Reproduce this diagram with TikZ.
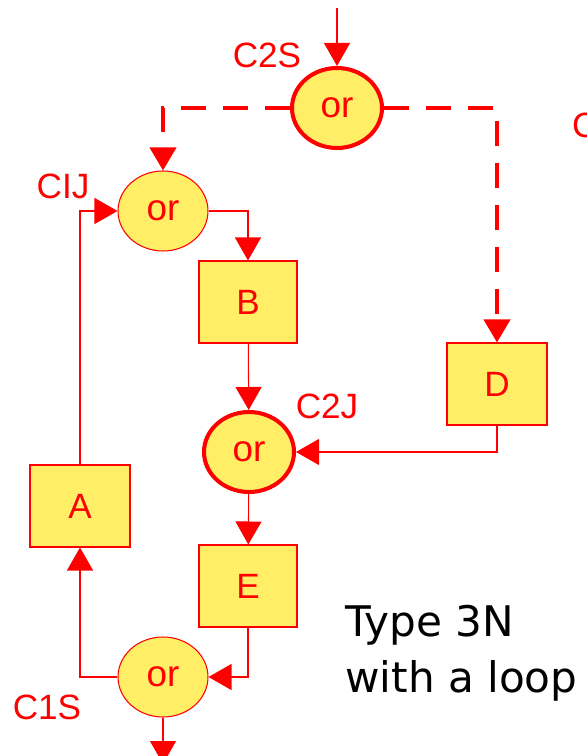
\documentclass[tikz,border=0pt]{standalone}
\usepackage{fontspec}
\setmainfont{Liberation Sans}
\newfontfamily\capfont{DejaVu Sans}
\usepackage{tikz}
\usetikzlibrary{
  arrows.meta,
  positioning,
  shapes.geometric
}
\definecolor{orred}{RGB}{255,0,0}
\definecolor{oryellow}{RGB}{255,238,102}
\tikzset{
  ornode/.style={ellipse, draw=orred, fill=oryellow, line width=0.6pt,
    minimum width=1.8cm, minimum height=1.6cm, inner sep=0pt,
    text=orred, font=\fontsize{21}{21}\selectfont},
  orthick/.style={ornode, line width=2.3pt},
  taskbox/.style={rectangle, draw=orred, fill=oryellow, line width=0.6pt,
    minimum width=1.96cm, minimum height=1.64cm,
    text=orred, font=\fontsize{20}{20}\selectfont},
  lbl/.style={text=orred, font=\fontsize{20}{20}\selectfont},
  flow/.style={draw=orred, line width=0.6pt, -{Triangle[length=4.6mm,width=5.2mm]}},
  dflow/.style={flow, line width=2.3pt, dash pattern=on 0.5cm off 0.34cm}
}

\begin{document}
\begin{tikzpicture}[x=0.02cm,y=-0.02cm]
  \useasboundingbox (0,0) rectangle (586,756);

  % or nodes
  \node[orthick] (c2s) at (337,108) {or};
  \node[ornode]  (cij) at (163,211) {or};
  \node[orthick] (c2j) at (249,452) {or};
  \node[ornode]  (c1s) at (163,677) {or};

  % tasks
  \node[taskbox] (b) at (248,302) {B};
  \node[taskbox, minimum width=2cm] (d) at (497,384) {D};
  \node[taskbox, minimum width=2cm] (a) at (80,506) {A};
  \node[taskbox] (e) at (248,586) {E};

  % labels
  \node[lbl] (lc2s) at (267,55) {C2S};
  \node[lbl] (lcij) at (63,186) {CIJ};
  \node[lbl] (lc2j) at (327,406) {C2J};
  \node[lbl] (lc1s) at (47,707) {C1S};
  \node[lbl, anchor=west] (lcut) at (566,125) {C};

  \coordinate (in) at (337,8);
  \coordinate (out) at (163,764);

  % connectors
  \draw[flow] (in) -- (c2s);
  \draw[dflow] (c2s.west) -| (cij.north);
  \draw[dflow] (c2s.east) -| (d.north);
  \draw[flow] (cij.east) -| (b.north);
  \draw[flow] (b) -- (c2j);
  \draw[flow] (d.south) |- (c2j.east);
  \draw[flow] (c2j) -- (e);
  \draw[flow] (e.south) |- (c1s.east);
  \draw[flow] (c1s) -- (out);
  \draw[flow] (c1s.west) -| (a.south);
  \draw[flow] (a.north) |- (cij.west);

  \node[anchor=north west, align=left, inner sep=0pt,
    font=\capfont\fontsize{24}{32}\selectfont] (caption) at (345,605)
    {Type 3N\\with a loop};

\end{tikzpicture}
\end{document}
